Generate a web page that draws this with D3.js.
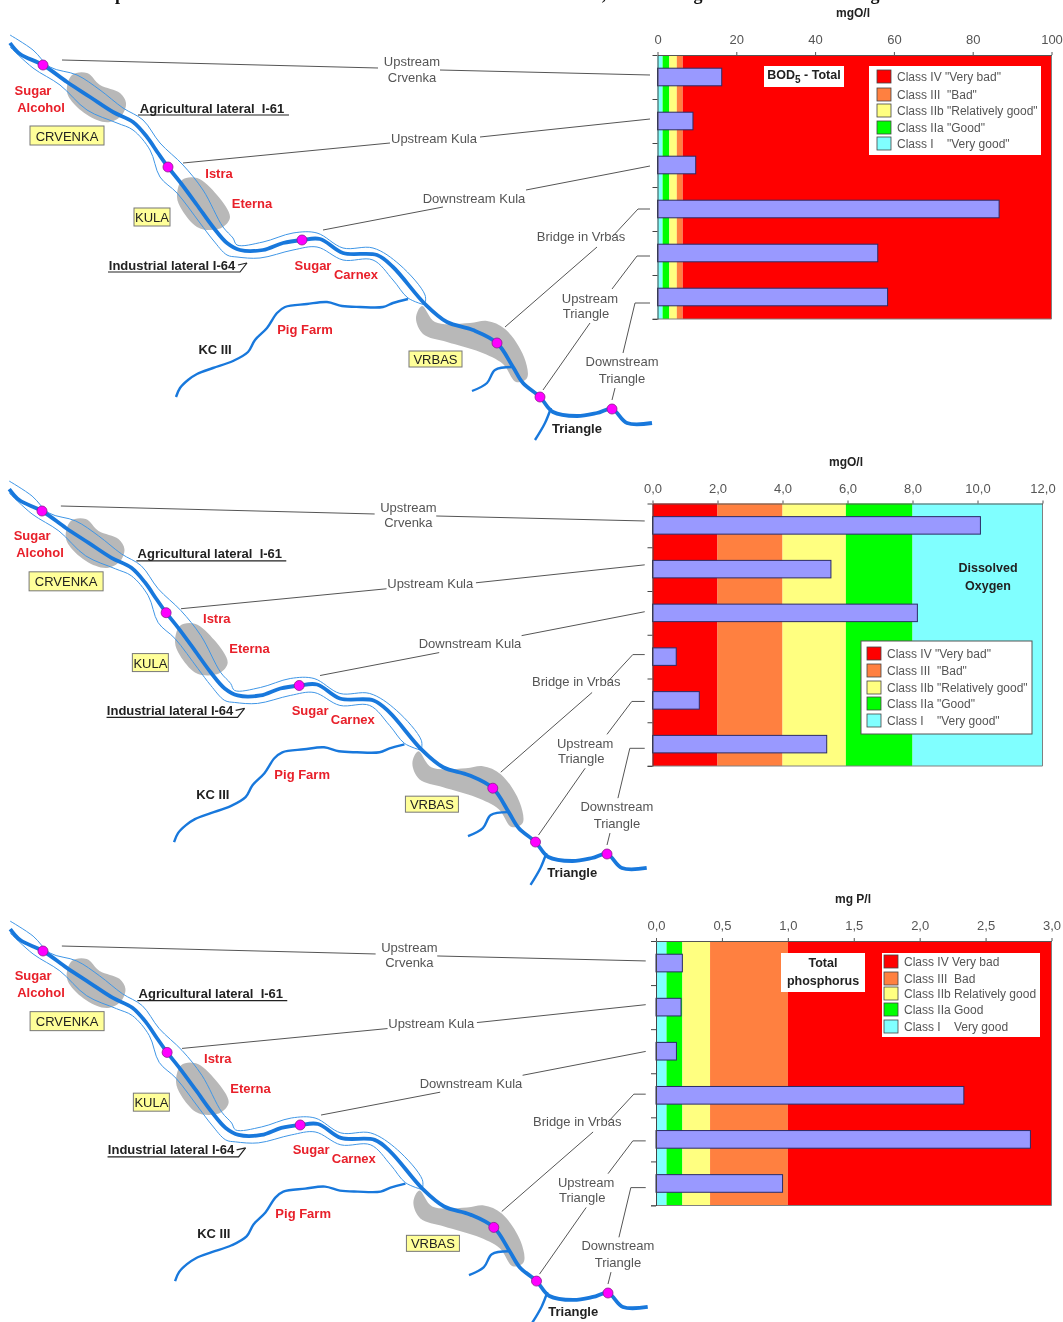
<!DOCTYPE html>
<html>
<head>
<meta charset="utf-8">
<script src="https://d3js.org/d3.v7.min.js"></script>
<style>
  html, body { margin: 0; padding: 0; background: #fff; }
  #chart { width: 1063px; height: 1322px; overflow: hidden; }
  svg { display: block; filter: blur(0.5px); }
  text { font-family: "Liberation Sans", Arial, sans-serif; }
</style>
</head>
<body>
<div id="chart"></div>
<script>
// Sampling stations, top to bottom in every chart
const stations = ["Upstream Crvenka", "Upstream Kula", "Downstream Kula", "Bridge in Vrbas", "Upstream Triangle", "Downstream Triangle"];

// Values
const bodValues = [16.3, 9.0, 9.7, 86.7, 55.9, 58.4];
const oxygenValues = [10.09, 5.49, 8.15, 0.73, 1.44, 5.36];
const phosphorusValues = [0.2, 0.19, 0.155, 2.335, 2.84, 0.96];

// Class band limits on each value axis
const bodLimits = [0, 1.3, 3, 4.9, 6.4, 100];
const oxygenLimits = [0, 2, 4, 5.95, 8, 12];
const phosphorusLimits = [0, 0.08, 0.2, 0.41, 1, 3];

const cyan = "#80ffff", green = "#00ff00", yellow = "#ffff80", orange = "#ff8040", red = "#ff0000";
const bodBands = [cyan, green, yellow, orange, red];
const oxygenBands = [red, orange, yellow, green, cyan];
const phosphorusBands = [cyan, green, yellow, orange, red];

const legendColors = [red, orange, yellow, green, cyan];
const quotedLegend = ['Class IV "Very bad"', 'Class III  "Bad"', 'Class IIb "Relatively good"', 'Class IIa "Good"', 'Class I    "Very good"'];
const plainLegend = ["Class IV Very bad", "Class III  Bad", "Class IIb Relatively good", "Class IIa Good", "Class I    Very good"];

const bodTicks = [0, 20, 40, 60, 80, 100];
const oxygenTicks = [0, 2, 4, 6, 8, 10, 12];
const phosphorusTicks = [0, 0.5, 1, 1.5, 2, 2.5, 3];

// Map outline, traced in the top panel's pixels
const riverMain = [[10,43],[20,54],[43,65],[67,82],[90,97],[113,112],[133,122],[147,137],[158,153],[168,167],[180,182],[197,205],[213,227],[227,243],[240,250],[263,250],[283,243],[302,240],[320,239],[343,253],[377,255],[393,267],[425,304],[447,322],[473,330],[497,343],[513,367],[523,383],[540,397],[553,412],[577,416],[597,413],[612,409],[627,423],[652,423]];
const bankUpper = [[10,35],[33,50],[50,67],[77,75],[100,90],[123,108],[143,120],[160,143],[183,165],[203,190],[223,227],[233,238],[237,245],[263,242],[293,233],[317,233],[343,248],[373,248],[400,265],[425,295],[425,305]];
const bankLower = [[10,47],[33,68],[60,85],[87,110],[117,123],[133,130],[150,150],[160,177],[177,193],[200,223],[213,240],[227,255],[237,257],[260,258],[293,250],[317,247],[343,260],[373,260],[393,280],[408,298],[425,305]];
const lateralPigFarm = [[176,397],[180,388],[188,380],[197,374],[213,368],[233,361],[248,352],[255,340],[267,328],[277,313],[285,307],[307,304],[327,302],[342,306],[360,307],[383,307],[393,303],[408,299]];
const lateralVrbas = [[472,391],[487,383],[495,370],[512,367]];
const lateralTriangle = [[535,440],[545,423],[551,408]];

const townAreas = [
  [[72,75],[87,73],[100,85],[120,93],[126,103],[122,115],[110,122],[97,120],[77,107],[67,92]],
  [[182,180],[197,178],[217,195],[230,217],[223,227],[210,230],[197,227],[182,210],[177,197]],
  [[422,306],[435,322],[470,323],[487,321],[505,329],[524,357],[527,378],[516,382],[503,364],[480,352],[447,342],[423,334],[416,318]]
];
const stationPoints = [[43,65],[168,167],[302,240],[497,343],[540,397],[612,409]];

const leaderLines = [
  [[62,60],[378,68]], [[440,70],[650,75]],
  [[183,163],[390,143]], [[480,137],[650,119]],
  [[323,230],[443,207]], [[526,190],[650,166]],
  [[505,327],[597,247]], [[612,237],[638,209],[650,209]],
  [[543,390],[590,323]], [[612,289],[637,256],[650,256]],
  [[612,400],[615,388]], [[623,353],[635,303],[650,303]]
];
const underlines = [
  [[138,115],[289,115]],
  [[108,272],[240,272],[247,263]],
  [[238,265],[247,263]]
];

const mapLabels = [
  ["Upstream", 412, 61, "grey"], ["Crvenka", 412, 77, "grey"],
  ["Upstream Kula", 434, 138, "grey"], ["Downstream Kula", 474, 198, "grey"],
  ["Bridge in Vrbas", 581, 236, "grey"],
  ["Upstream", 590, 298, "grey"], ["Triangle", 586, 313, "grey"],
  ["Downstream", 622, 361, "grey"], ["Triangle", 622, 378, "grey"],
  ["Sugar", 33, 90, "red"], ["Alcohol", 41, 107, "red"],
  ["Istra", 219, 173, "red"], ["Eterna", 252, 203, "red"],
  ["Sugar", 313, 265, "red"], ["Carnex", 356, 274, "red"], ["Pig Farm", 305, 329, "red"],
  ["Agricultural lateral  I-61", 212, 108, "black"], ["Industrial lateral I-64", 172, 265, "black"],
  ["KC III", 215, 349, "black"], ["Triangle", 577, 428, "black"]
];
const townBoxes = [["CRVENKA", 30, 126, 74, 19], ["KULA", 134, 208, 36, 18], ["VRBAS", 409, 351, 53, 16]];

// Bottom edge of the line of text cut off by the top of the picture
const cutOffGlyphs = [["p", 120], [",", 604], ["g", 698], ["g", 875]];

const svg = d3.select("#chart").append("svg")
  .attr("width", 1063)
  .attr("height", 1322);

const labelStyle = {
  grey: { fill: "#555", weight: "normal", size: 13 },
  red: { fill: "#e8202a", weight: "bold", size: 13 },
  black: { fill: "#222", weight: "bold", size: 13 }
};

svg.selectAll(".cut").data(cutOffGlyphs).enter().append("text")
  .attr("x", d => d[1]).attr("y", 0)
  .attr("text-anchor", "middle")
  .attr("font-size", 18).attr("font-weight", "bold").attr("fill", "#111")
  .style("font-family", '"Liberation Serif", serif')
  .text(d => d[0]);

function drawMap(xRange, yRange) {
  const x = d3.scaleLinear().domain([43, 612]).range(xRange);
  const y = d3.scaleLinear().domain([65, 409]).range(yRange);
  const g = svg.append("g");
  const line = d3.line().x(d => x(d[0])).y(d => y(d[1]));
  const smooth = d3.line().x(d => x(d[0])).y(d => y(d[1])).curve(d3.curveCatmullRom);
  const blob = d3.line().x(d => x(d[0])).y(d => y(d[1])).curve(d3.curveCatmullRomClosed);

  g.selectAll(".area").data(townAreas).enter().append("path")
    .attr("d", blob).attr("fill", "#b8b8b8");

  g.selectAll(".leader").data(leaderLines).enter().append("path")
    .attr("d", line).attr("fill", "none").attr("stroke", "#555").attr("stroke-width", 1);
  g.selectAll(".under").data(underlines).enter().append("path")
    .attr("d", line).attr("fill", "none").attr("stroke", "#222").attr("stroke-width", 1.2);

  g.selectAll(".bank").data([bankUpper, bankLower]).enter().append("path")
    .attr("d", smooth).attr("fill", "none").attr("stroke", "#3f96e6").attr("stroke-width", 1);
  g.selectAll(".lateral").data([lateralPigFarm, lateralVrbas, lateralTriangle]).enter().append("path")
    .attr("d", smooth).attr("fill", "none").attr("stroke", "#1878dc").attr("stroke-width", 2.4);
  g.append("path").datum(riverMain)
    .attr("d", smooth).attr("fill", "none").attr("stroke", "#1878dc").attr("stroke-width", 3.8);

  g.selectAll(".station").data(stationPoints).enter().append("circle")
    .attr("cx", d => x(d[0])).attr("cy", d => y(d[1])).attr("r", 5)
    .attr("fill", "#ff00ff").attr("stroke", "#8a1a8a").attr("stroke-width", 0.8);

  g.selectAll(".label").data(mapLabels).enter().append("text")
    .attr("x", d => x(d[1])).attr("y", d => y(d[2]))
    .attr("text-anchor", "middle").attr("dominant-baseline", "central")
    .attr("fill", d => labelStyle[d[3]].fill)
    .attr("font-weight", d => labelStyle[d[3]].weight)
    .attr("font-size", d => labelStyle[d[3]].size)
    .style("white-space", "pre")
    .text(d => d[0]);

  const boxes = g.selectAll(".town").data(townBoxes).enter().append("g");
  boxes.append("rect")
    .attr("x", d => x(d[1])).attr("y", d => y(d[2]))
    .attr("width", d => d[3]).attr("height", d => d[4])
    .attr("fill", "#ffff99").attr("stroke", "#777").attr("stroke-width", 1);
  boxes.append("text")
    .attr("x", d => x(d[1]) + d[3] / 2).attr("y", d => y(d[2]) + d[4] / 2 + 0.5)
    .attr("text-anchor", "middle").attr("dominant-baseline", "central")
    .attr("fill", "#222").attr("font-size", 13)
    .text(d => d[0]);
}

function drawChart(c) {
  const x = d3.scaleLinear().domain(d3.extent(c.limits)).range([c.left, c.right]);
  const rows = d3.scaleLinear().domain([0, 6]).range([c.top, c.bottom]);
  const y = d3.scaleBand().domain(stations).range([c.top, c.bottom]).paddingInner(0.6).paddingOuter(0.3);
  const g = svg.append("g");

  g.selectAll(".band").data(c.bands).enter().append("rect")
    .attr("x", (d, i) => x(c.limits[i]))
    .attr("y", c.top)
    .attr("width", (d, i) => x(c.limits[i + 1]) - x(c.limits[i]))
    .attr("height", c.bottom - c.top)
    .attr("fill", d => d);

  // plot frame, right and bottom only
  g.append("path")
    .attr("d", d3.line()([[c.right, c.top], [c.right, c.bottom], [c.left - 5, c.bottom]]))
    .attr("fill", "none").attr("stroke", "#808080").attr("stroke-width", 1);

  g.selectAll(".bar").data(c.values).enter().append("rect")
    .attr("x", x(0))
    .attr("y", (d, i) => y(stations[i]))
    .attr("width", d => x(d) - x(0))
    .attr("height", y.bandwidth())
    .attr("fill", "#9999ff")
    .attr("stroke", "#2c2c66")
    .attr("stroke-width", 1);

  const top = g.append("g").attr("transform", `translate(0,${c.top})`)
    .call(d3.axisTop(x).tickValues(c.ticks).tickFormat(c.format).tickSize(3).tickSizeOuter(0).tickPadding(8));
  top.select(".domain").attr("stroke", "#555");
  top.selectAll(".tick line").attr("stroke", "#555");
  top.selectAll("text").attr("fill", "#555").attr("font-size", 13)
    .style("font-family", '"Liberation Sans", Arial, sans-serif');

  const left = g.append("g").attr("transform", `translate(${c.left},0)`)
    .call(d3.axisLeft(rows).ticks(6).tickFormat("").tickSize(5).tickSizeOuter(0));
  left.select(".domain").attr("stroke", "#444");
  left.selectAll(".tick line").attr("stroke", "#444");

  g.append("text")
    .attr("x", c.titleX).attr("y", c.top - 42)
    .attr("text-anchor", "middle").attr("dominant-baseline", "central")
    .attr("font-size", 12).attr("font-weight", "bold").attr("fill", "#222")
    .text(c.unit);

  // legend
  const lg = c.legend;
  g.append("rect")
    .attr("x", lg.x).attr("y", lg.y).attr("width", lg.w).attr("height", lg.h)
    .attr("fill", "#fff").attr("stroke", lg.border ? "#555" : "none");
  g.selectAll(".swatch").data(legendColors).enter().append("rect")
    .attr("x", lg.swatch).attr("y", (d, i) => lg.rows[i] - 7)
    .attr("width", 14).attr("height", 13)
    .attr("fill", d => d).attr("stroke", "#444").attr("stroke-width", 0.8);
  g.selectAll(".legtext").data(c.legendLabels).enter().append("text")
    .attr("x", lg.swatch + 20).attr("y", (d, i) => lg.rows[i])
    .attr("dominant-baseline", "central")
    .attr("font-size", 12).attr("fill", "#555")
    .style("white-space", "pre")
    .text(d => d);

  // chart name
  if (c.nameBox) {
    g.append("rect")
      .attr("x", c.nameBox[0]).attr("y", c.nameBox[1]).attr("width", c.nameBox[2]).attr("height", c.nameBox[3])
      .attr("fill", "#fff");
  }
  c.name.forEach(n => {
    const t = g.append("text")
      .attr("x", n.x).attr("y", n.y)
      .attr("text-anchor", "middle").attr("dominant-baseline", "central")
      .attr("font-size", 12.5).attr("font-weight", "bold").attr("fill", "#222");
    t.text(n.text);
    if (n.sub) {
      t.append("tspan").attr("font-size", 10).attr("dy", 4).text(n.sub);
      t.append("tspan").attr("dy", -4).text(n.rest);
    }
  });
}

const commaOne = d => d3.format(".1f")(d).replace(".", ",");

drawMap([43, 612], [65, 409]);
drawMap([42, 607], [511, 854]);
drawMap([43, 608], [951, 1293]);

drawChart({
  limits: bodLimits, bands: bodBands, values: bodValues, ticks: bodTicks, format: d3.format("d"),
  left: 657.5, right: 1051.5, top: 55, bottom: 319, unit: "mgO/l", titleX: 853,
  legendLabels: quotedLegend,
  legend: { x: 869, y: 66, w: 172, h: 89, swatch: 877, rows: [77, 95, 111, 128, 144], border: false },
  nameBox: [764, 66, 80, 21],
  name: [{ text: "BOD", sub: "5", rest: " - Total", x: 804, y: 75 }]
});

drawChart({
  limits: oxygenLimits, bands: oxygenBands, values: oxygenValues, ticks: oxygenTicks, format: commaOne,
  left: 652.5, right: 1042.5, top: 503.5, bottom: 766, unit: "mgO/l", titleX: 846,
  legendLabels: quotedLegend,
  legend: { x: 861, y: 641, w: 171, h: 93, swatch: 867, rows: [654, 671, 688, 704, 721], border: true },
  name: [{ text: "Dissolved", x: 988, y: 568 }, { text: "Oxygen", x: 988, y: 586 }]
});

drawChart({
  limits: phosphorusLimits, bands: phosphorusBands, values: phosphorusValues, ticks: phosphorusTicks, format: commaOne,
  left: 656, right: 1051.5, top: 941, bottom: 1205.5, unit: "mg P/l", titleX: 853,
  legendLabels: plainLegend,
  legend: { x: 882, y: 953, w: 158, h: 84, swatch: 884, rows: [962, 979, 994, 1010, 1027], border: false },
  nameBox: [781, 953, 84, 39],
  name: [{ text: "Total", x: 823, y: 963 }, { text: "phosphorus", x: 823, y: 981 }]
});
</script>
</body>
</html>
